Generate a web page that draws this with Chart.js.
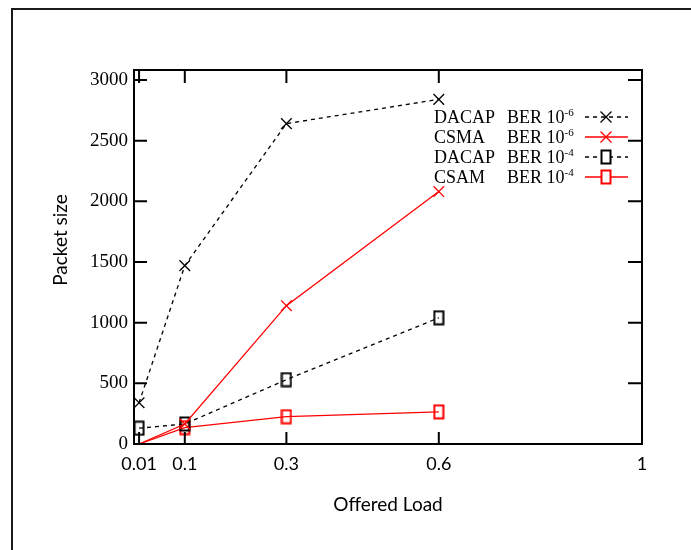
<!DOCTYPE html>
<html>
<head>
<meta charset="utf-8">
<script src="https://cdn.jsdelivr.net/npm/chart.js@4.4.1/dist/chart.umd.min.js"></script>
<style>
  body { margin: 0; background: #fff; }
  #wrap { width: 691px; height: 550px; position: relative; }
</style>
</head>
<body>
<div id="wrap"><canvas id="loadChart"></canvas></div>
<script>
// offered load on x, packet size on y
const loads = [0.01, 0.1, 0.3, 0.6];
const dacap6 = [340, 1470, 2640, 2840];
const csma6 = [0, 165, 1140, 2080];
const dacap4 = [130, 165, 530, 1040];
const csam4 = [0, 135, 225, 265];
const xTicks = [0.01, 0.1, 0.3, 0.6, 1];
const yTicks = [0, 500, 1000, 1500, 2000, 2500, 3000];
const legendNames = ['DACAP', 'CSMA', 'DACAP', 'CSAM'];
const legendPowers = ['-6', '-6', '-4', '-4'];

const RED = '#ff0000';
const BLACK = '#000000';

function boxMarker(color){
  const c = document.createElement('canvas');
  c.width = 12; c.height = 16;
  const g = c.getContext('2d');
  g.strokeStyle = color;
  g.lineWidth = 2;
  g.strokeRect(1.5, 1.5, 9, 13);
  return c;
}

function pts(vals){
  return vals.map((v, i) => ({x: loads[i], y: v}));
}

const series = [
  {label: 'DACAP BER 10-6', data: pts(dacap6), color: BLACK, dash: [4, 4], marker: 'crossRot'},
  {label: 'CSMA BER 10-6', data: pts(csma6), color: RED, dash: [], marker: 'crossRot'},
  {label: 'DACAP BER 10-4', data: pts(dacap4), color: BLACK, dash: [4, 4], marker: boxMarker(BLACK)},
  {label: 'CSAM BER 10-4', data: pts(csam4), color: RED, dash: [], marker: boxMarker(RED)}
];

const datasets = series.map(s => ({
  label: s.label,
  data: s.data,
  borderColor: s.color,
  backgroundColor: s.color,
  borderWidth: 1.3,
  borderDash: s.dash,
  pointStyle: s.marker,
  pointRadius: ctx => (ctx.raw && ctx.raw.y === 0) ? 0 : 7.5,
  pointBorderWidth: 1.3,
  pointBorderColor: s.color,
  pointHoverRadius: 7.5,
  tension: 0,
  fill: false
}));

function drawCross(ctx, x, y, color){
  const r = 5.5;
  ctx.save();
  ctx.setLineDash([]);
  ctx.strokeStyle = color;
  ctx.lineWidth = 1.3;
  ctx.beginPath();
  ctx.moveTo(x - r, y - r); ctx.lineTo(x + r, y + r);
  ctx.moveTo(x - r, y + r); ctx.lineTo(x + r, y - r);
  ctx.stroke();
  ctx.restore();
}

const framePlugin = {
  id: 'frame',
  afterDraw(chart){
    const ctx = chart.ctx;
    const a = chart.chartArea;
    const xs = chart.scales.x, ys = chart.scales.y;
    ctx.save();
    // outer page frame
    ctx.fillStyle = '#1a1a1a';
    ctx.fillRect(11, 8, 2, chart.height);
    ctx.fillRect(11, 8, chart.width, 2);

    // plot box
    ctx.strokeStyle = '#000';
    ctx.lineWidth = 2;
    ctx.setLineDash([]);
    ctx.strokeRect(a.left, a.top, a.right - a.left, a.bottom - a.top);

    // inward ticks, mirrored
    ctx.beginPath();
    yTicks.forEach(v => {
      const y = ys.getPixelForValue(v);
      ctx.moveTo(a.left, y); ctx.lineTo(a.left + 13, y);
      ctx.moveTo(a.right, y); ctx.lineTo(a.right - 14, y);
    });
    xTicks.forEach(v => {
      const x = xs.getPixelForValue(v);
      ctx.moveTo(x, a.bottom); ctx.lineTo(x, a.bottom - 12);
      ctx.moveTo(x, a.top); ctx.lineTo(x, a.top + 13);
    });
    ctx.stroke();

    // y title
    ctx.fillStyle = '#000';
    ctx.font = '19px Lato';
    ctx.textAlign = 'center';
    ctx.textBaseline = 'middle';
    ctx.translate(61, 240);
    ctx.rotate(-Math.PI / 2);
    ctx.fillText('Packet size', 0, 0);
    ctx.restore();

    // legend
    ctx.save();
    const left = a.right - 208;
    series.forEach((s, i) => {
      const cy = a.top + 47 + i * 20;
      const base = cy + 6;
      ctx.fillStyle = '#000';
      ctx.textAlign = 'left';
      ctx.textBaseline = 'alphabetic';
      ctx.font = '18px "Liberation Serif"';
      ctx.fillText(legendNames[i], left, base);
      ctx.fillText('BER 10', left + 73, base);
      const w = ctx.measureText('BER 10').width;
      ctx.font = '11px "Liberation Serif"';
      ctx.fillText(legendPowers[i], left + 73 + w, base - 7);

      const x0 = left + 151, x1 = left + 194, mx = left + 172;
      ctx.strokeStyle = s.color;
      ctx.lineWidth = 1.3;
      ctx.setLineDash(s.dash);
      ctx.beginPath();
      ctx.moveTo(x0, cy); ctx.lineTo(x1, cy);
      ctx.stroke();
      ctx.setLineDash([]);
      if (s.marker === 'crossRot') {
        drawCross(ctx, mx, cy, s.color);
      } else {
        ctx.fillStyle = '#fff';
        ctx.fillRect(mx - 5, cy - 7, 10, 14);
        ctx.drawImage(s.marker, mx - 6, cy - 8);
      }
    });
    ctx.restore();
  }
};

new Chart(document.getElementById('loadChart'), {
  type: 'line',
  data: {datasets: datasets},
  options: {
    responsive: true,
    maintainAspectRatio: false,
    animation: false,
    devicePixelRatio: 1,
    layout: {padding: {left: 0, top: 70, right: 49, bottom: 0}},
    plugins: {
      legend: {display: false},
      tooltip: {enabled: false}
    },
    scales: {
      x: {
        type: 'linear',
        min: 0,
        max: 1,
        afterBuildTicks: scale => { scale.ticks = xTicks.map(v => ({value: v})); },
        afterFit: scale => { scale.height = 106; },
        grid: {display: false, drawTicks: false},
        border: {display: false},
        ticks: {
          autoSkip: false,
          maxRotation: 0,
          padding: 9,
          color: '#000',
          font: {family: 'Lato', size: 18},
          callback: v => String(v)
        },
        title: {
          display: true,
          text: 'Offered Load',
          color: '#000',
          font: {family: 'Lato', size: 19},
          padding: {top: 0, bottom: 34}
        }
      },
      y: {
        min: 0,
        max: 3082,
        afterBuildTicks: scale => { scale.ticks = yTicks.map(v => ({value: v})); },
        afterFit: scale => { scale.width = 134; },
        grid: {display: false, drawTicks: false},
        border: {display: false},
        ticks: {
          padding: 6,
          color: '#000',
          font: {family: 'Liberation Serif', size: 19},
          callback: v => String(v)
        }
      }
    }
  },
  plugins: [framePlugin]
});
</script>
</body>
</html>
